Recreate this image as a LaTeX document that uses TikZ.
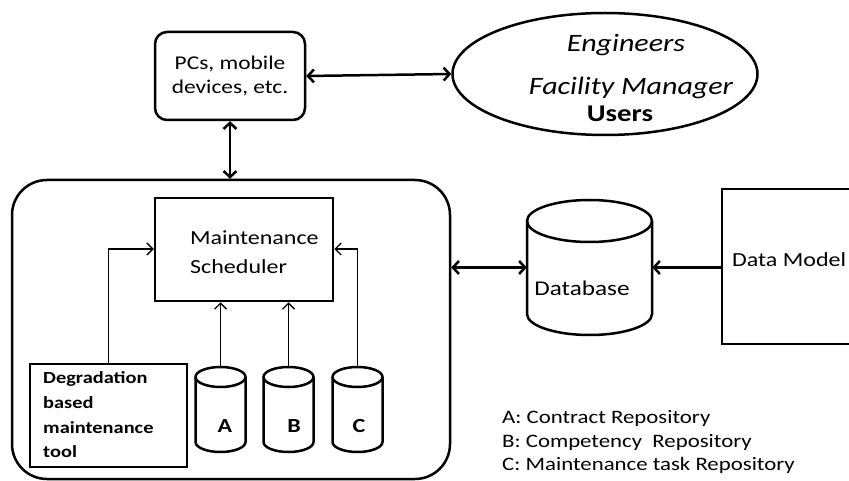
\documentclass[tikz,border=0pt]{standalone}
\usepackage{fontspec}
\setmainfont{Carlito}[FakeStretch=1.2]
\usetikzlibrary{arrows.meta,shapes.geometric}

% cylinder drawn from its centre x, top y, bottom y, x radius and y radius
\newcommand\drawcyl[6][]{%
  \filldraw[fill=white,#1] (#2-#5,#3+#6) -- (#2-#5,#4-#6)
    arc[start angle=180,end angle=0,x radius=#5,y radius=#6]
    -- (#2+#5,#3+#6)
    arc[start angle=0,end angle=-180,x radius=#5,y radius=#6] -- cycle;
  \draw[#1] (#2-#5,#3+#6) arc[start angle=180,end angle=0,x radius=#5,y radius=#6];
}

\tikzset{
  heavy/.style={line width=2.5pt},
  light/.style={line width=1.3pt},
  bigtip/.style={heavy,{Straight Barb[length=6pt,width=13pt]}-{Straight Barb[length=6pt,width=13pt]}},
  onetip/.style={heavy,-{Straight Barb[length=6pt,width=13pt]}},
  smalltip/.style={light,-{Straight Barb[length=6pt,width=12pt]}},
  box/.style={draw,heavy,rectangle,inner sep=0pt},
  holder/.style={rectangle,inner sep=0pt},
  lbl/.style={anchor=base west,inner sep=0pt},
  clbl/.style={anchor=base,inner sep=0pt},
}

\begin{document}
\begin{tikzpicture}[x=1pt,y=-1pt]
\useasboundingbox (0,0) rectangle (849,481);

% outer system frame
\node[box,rounded corners=35pt,minimum width=438,minimum height=299] (sys) at (231,329.5) {};

% devices and users
\node[box,rounded corners=12pt,minimum width=150,minimum height=88,align=center,
      font=\fontsize{19.5}{24}\selectfont] (pcs) at (230,76) {PCs, mobile\\devices, etc.};
\node[draw,heavy,ellipse,minimum width=305,minimum height=122,inner sep=0pt] (users) at (605,74) {};
\node[clbl,font=\fontsize{25}{30}\selectfont\itshape] (eng) at (626,52) {Engineers};
\node[clbl,font=\fontsize{25}{30}\selectfont\itshape] (fm) at (631,95) {Facility Manager};
\node[clbl,font=\fontsize{24}{29}\selectfont\bfseries] (usr) at (620,122) {Users};

% scheduler
\node[box,minimum width=178,minimum height=103] (sched) at (244,249.5) {};
\node[lbl,font=\fontsize{20}{24}\selectfont] (schedA) at (190,244) {Maintenance};
\node[lbl,font=\fontsize{20}{24}\selectfont] (schedB) at (190,273) {Scheduler};

% degradation tool
\node[box,minimum width=157,minimum height=103] (deg) at (108.5,415.5) {};
\node[lbl,font=\fontsize{17}{20}\selectfont\bfseries] (degA) at (43,383) {Degradation};
\node[lbl,font=\fontsize{17}{20}\selectfont\bfseries] (degB) at (43,408) {based};
\node[lbl,font=\fontsize{17}{20}\selectfont\bfseries] (degC) at (43,433) {maintenance};
\node[lbl,font=\fontsize{17}{20}\selectfont\bfseries] (degD) at (43,457) {tool};

% repositories A, B, C
\drawcyl[heavy]{220.5}{367}{452}{25}{10}
\drawcyl[heavy]{288.5}{367}{452}{25}{10}
\drawcyl[heavy]{357.5}{367}{452}{25}{10}
\node[holder,minimum width=50,minimum height=85] (ra) at (220.5,409.5) {};
\node[holder,minimum width=50,minimum height=85] (rb) at (288.5,409.5) {};
\node[holder,minimum width=50,minimum height=85] (rc) at (357.5,409.5) {};
\node[clbl,font=\fontsize{20}{24}\selectfont\bfseries] (la) at (225,432) {A};
\node[clbl,font=\fontsize{20}{24}\selectfont\bfseries] (lb) at (294,432) {B};
\node[clbl,font=\fontsize{20}{24}\selectfont\bfseries] (lc) at (359,432) {C};

% database and data model
\drawcyl[heavy]{589.5}{200}{335}{62.5}{21}
\node[holder,minimum width=125,minimum height=135] (db) at (589.5,267.5) {};
\node[clbl,font=\fontsize{21}{25}\selectfont] (dbl) at (582,295) {Database};
\node[box,minimum width=140,minimum height=155] (dm) at (792,266.5) {};
\node[lbl,font=\fontsize{20}{24}\selectfont] (dml) at (732,267) {Data Model};

% legend
\node[lbl,font=\fontsize{19}{23}\selectfont] (legA) at (502,423) {A: Contract Repository};
\node[lbl,font=\fontsize{19}{23}\selectfont] (legB) at (502,447) {B: Competency\ \ Repository};
\node[lbl,font=\fontsize{19}{23}\selectfont] (legC) at (502,470) {C: Maintenance task Repository};

% connectors
\draw[bigtip] (pcs.east) -- (users.west);
\draw[bigtip] (pcs.south) -- (pcs.south |- sys.north);
\draw[bigtip] (sys.east |- db.west) -- (db.west);
\draw[onetip] (dm.west |- db.east) -- (db.east);
\draw[smalltip] (ra.north) -- (ra.north |- sched.south);
\draw[smalltip] (rb.north) -- (rb.north |- sched.south);
\draw[smalltip] (rc.north) |- ([yshift=0.5]sched.east);
\draw[smalltip] (deg.north) |- ([yshift=0.5]sched.west);
\end{tikzpicture}
\end{document}
